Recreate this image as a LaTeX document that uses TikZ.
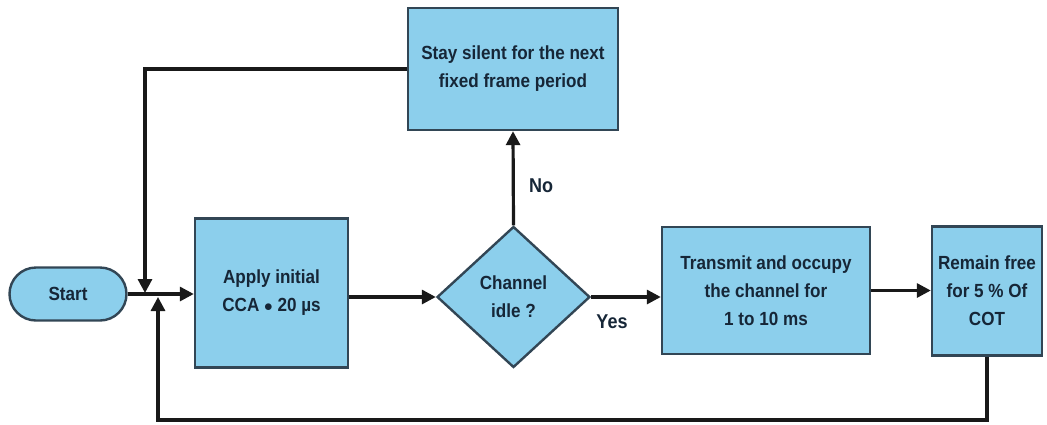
\documentclass[tikz,border=0pt]{standalone}
\usepackage{fontspec}
\setmainfont{Liberation Sans}[FakeStretch=0.9]
\usetikzlibrary{shapes.misc,shapes.geometric,arrows.meta}
\definecolor{boxfill}{RGB}{140,207,236}
\definecolor{boxline}{RGB}{50,70,85}
\definecolor{txt}{RGB}{22,38,55}
\tikzset{
  box/.style={draw=boxline, fill=boxfill, line width=2.4pt, text=txt, align=center,
    font=\fontsize{19}{28}\selectfont\bfseries, inner sep=0pt},
  arr/.style={line width=3.2pt, draw=black!90, -{Triangle[length=14pt,width=14pt]}},
  lbl/.style={text=txt, font=\fontsize{20}{24}\selectfont\bfseries}
}
\begin{document}
\begin{tikzpicture}[x=1pt,y=-1pt]
\useasboundingbox (0,0) rectangle (1047,424);
\node[box, rounded rectangle, minimum width=117pt, minimum height=53pt] (start) at (68,294) {Start};
\node[box, minimum width=153pt, minimum height=149pt] (apply) at (271.5,293) {Apply initial\\CCA $\bullet$ 20 µs};
\node[box, diamond, minimum width=153pt, minimum height=141pt, aspect=1.085] (idle) at (513.5,297) {Channel\\idle ?};
\node[box, minimum width=210pt, minimum height=122pt] (silent) at (513,69) {Stay silent for the next\\fixed frame period};
\node[box, minimum width=208pt, minimum height=127pt] (trans) at (766,290.5) {Transmit and occupy\\the channel for\\1 to 10 ms};
\node[box, minimum width=110pt, minimum height=129pt] (remain) at (987,291) {Remain free\\for 5 \% Of\\COT};
\coordinate (j1) at (145,293);
\coordinate (j2) at (158,297);
\coordinate (low) at (158,420);
\draw[arr] (start.east) -- (apply.west |- start.east);
\draw[arr] (silent.west) -| (j1);
\draw[arr] (remain.south) |- (low) -- (j2);
\draw[arr] (apply.east |- idle.west) -- (idle.west);
\draw[arr] (idle.north) -- (silent.south);
\draw[arr] (idle.east) -- (trans.west |- idle.east);
\draw[arr] (trans.east) -- (remain.west |- trans.east);
\node[lbl] (no) at (541,186) {No};
\node[lbl] (yes) at (612,322) {Yes};
\end{tikzpicture}
\end{document}
